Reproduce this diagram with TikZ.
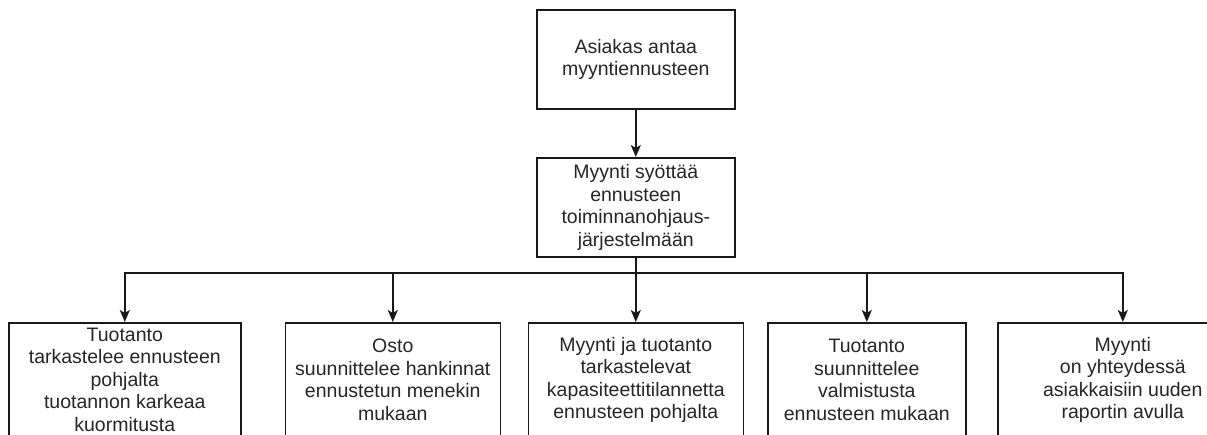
\documentclass[tikz,border=0pt]{standalone}
\usepackage{fontspec}
\setmainfont{Liberation Sans}
\usetikzlibrary{arrows.meta}
\tikzset{
  box/.style={draw=black!90, line width=1.6pt, fill=white, inner sep=0pt, align=center,
    font=\fontsize{19.5}{22.5}\selectfont, text=black!85, anchor=north west},
  arr/.style={draw=black!90, line width=1.6pt, -{Stealth[length=12pt,width=10pt,inset=3pt]}}
}
\begin{document}
\begin{tikzpicture}[x=1pt,y=-1pt]
\useasboundingbox (0,0) rectangle (1207,435);
\clip (0,0) rectangle (1207,435);
\node[box, minimum width=198pt, minimum height=99pt] (a) at (536,9) {Asiakas antaa\\myyntiennusteen};
\node[box, minimum width=198pt, minimum height=99pt] (m) at (536,157) {Myynti syöttää\\ennusteen\\toiminnanohjaus-\\järjestelmään};
\node[box, minimum width=232pt, minimum height=114pt] (b1) at (8,322) {Tuotanto\\tarkastelee ennusteen\\pohjalta\\tuotannon karkeaa\\kuormitusta};
\node[box, minimum width=215pt, minimum height=114pt] (b2) at (284.5,322) {Osto\\suunnittelee hankinnat\\ennustetun menekin\\mukaan};
\node[box, minimum width=215pt, minimum height=114pt] (b3) at (527.5,322) {Myynti ja tuotanto\\tarkastelevat\\kapasiteettitilannetta\\ennusteen pohjalta};
\node[box, minimum width=198pt, minimum height=114pt] (b4) at (767,322) {Tuotanto\\suunnittelee\\valmistusta\\ennusteen mukaan};
\node[box, minimum width=250pt, minimum height=114pt] (b5) at (997,322) {Myynti\\on yhteydessä\\asiakkaisiin uuden\\raportin avulla};
\coordinate (bus) at (m.south |- 0,273);
\draw[arr] (a.south) -- (m.north);
\foreach \t in {b1,b2,b3,b4,b5}{
  \draw[arr] (m.south) -- (bus) -| (\t.north);
}
\end{tikzpicture}
\end{document}
